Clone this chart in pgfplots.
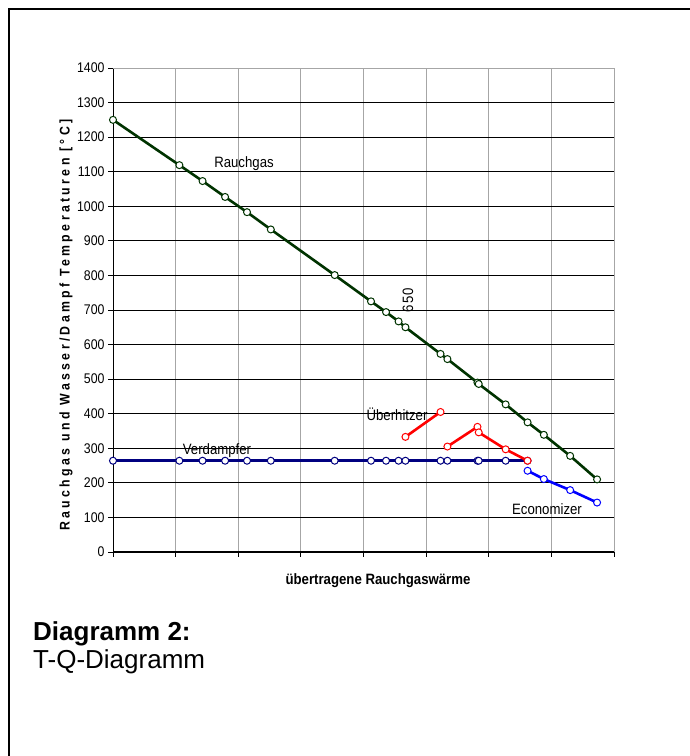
\documentclass[border=0pt]{standalone}
\usepackage{fontspec}
\setmainfont{Liberation Sans}[FakeStretch=0.88]
\newfontfamily\ylabfont{Liberation Sans}[FakeStretch=0.88,LetterSpace=24]
\newfontfamily\digfont{Liberation Sans}[FakeStretch=0.88,LetterSpace=8]
\newfontfamily\capfont{Liberation Sans}
\usepackage{pgfplots}
\pgfplotsset{compat=1.18}
\definecolor{rgreen}{RGB}{0,51,0}
\definecolor{navyb}{RGB}{0,0,128}
\definecolor{ecoblue}{RGB}{0,0,255}
\definecolor{uered}{RGB}{255,0,0}
\begin{document}
\begin{tikzpicture}[x=1pt,y=1pt]
\path[use as bounding box] (0,0) rectangle (690,756);
\draw[line width=2pt] (9,0) -- (9,747) -- (690,747);
\begin{axis}[at={(113pt,204pt)}, anchor=south west,
  width=501pt, height=484pt, scale only axis,
  xmin=0, xmax=8, ymin=0, ymax=1400,
  xtick={0,1,...,8}, xticklabels={},
  ytick={0,100,...,1400},
  axis x line*=bottom, axis y line*=left,
  axis line style={black, line width=1pt, -},
  grid=major,
  x grid style={gray!70, line width=0.9pt},
  y grid style={black, line width=0.8pt},
  tick align=outside, major tick length=5pt,
  tick style={black, line width=0.8pt},
  ticklabel style={font=\fontsize{14}{16}\selectfont},
  /pgf/number format/assume math mode=true,
  /pgf/number format/1000 sep={},
  clip=false,
  every axis plot/.append style={mark=*, mark size=3.5pt, line width=2.6pt,
    mark options={fill=white, line width=1pt, solid}}]
\draw[gray!70, line width=0.9pt] (rel axis cs:0,1) -- (rel axis cs:1,1) -- (rel axis cs:1,0);
% Rauchgas
\addplot[rgreen] coordinates {
 (0,1250) (1.06,1119) (1.43,1073) (1.79,1027) (2.14,983) (2.52,933)
 (3.54,801) (4.12,725) (4.36,694) (4.56,667) (4.67,650) (5.23,573)
 (5.34,558) (5.82,490) (5.84,486) (6.27,427) (6.62,375) (6.88,339)
 (7.30,278) (7.73,210)};
% Verdampfer
\addplot[navyb] coordinates {
 (0,264) (1.06,264) (1.43,264) (1.79,264) (2.14,264) (2.52,264)
 (3.54,264) (4.12,264) (4.36,264) (4.56,264) (4.67,264) (5.23,264)
 (5.34,264) (5.82,264) (5.84,264) (6.27,264) (6.62,264)};
% Economizer
\addplot[ecoblue] coordinates {
 (6.62,235) (6.88,211) (7.30,179) (7.73,143)};
% Ueberhitzer
\addplot[uered] coordinates {(4.67,333) (5.23,405)};
\addplot[uered] coordinates {
 (5.34,305) (5.82,362) (5.84,346) (6.27,297) (6.62,264)};
\end{axis}
\begin{scope}[every node/.style={font=\fontsize{15}{17}\selectfont, inner sep=0pt}]
\node at (244,592) {Rauchgas};
\node[rotate=90] at (408,456) {\digfont 650};
\node at (397,342) {Überhitzer};
\node at (217,305) {Verdampfer};
\node at (547,247) {Economizer};
\end{scope}
\node[rotate=90, font=\fontsize{14}{16}\selectfont\ylabfont\bfseries, inner sep=0pt] at (66,431) {Rauchgas und Wasser/Dampf Temperaturen [°C]};
\node[font=\fontsize{15}{17}\selectfont\bfseries, inner sep=0pt] at (378,175) {übertragene Rauchgaswärme};
\node[anchor=base west, inner sep=0pt, font=\fontsize{26}{30}\selectfont\capfont\bfseries] at (33,115) {Diagramm 2:};
\node[anchor=base west, inner sep=0pt, font=\fontsize{26}{30}\selectfont\capfont] at (33,87) {T-Q-Diagramm};
\end{tikzpicture}
\end{document}
